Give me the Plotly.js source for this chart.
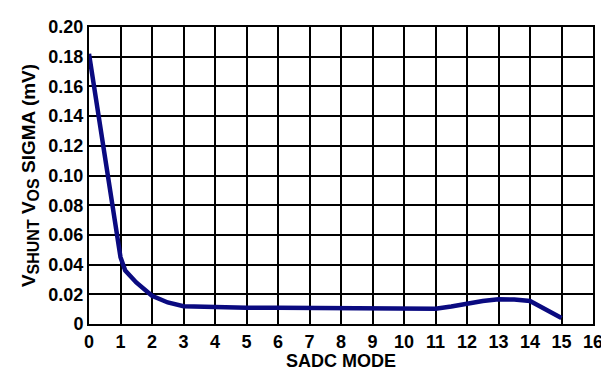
<!DOCTYPE html>
<html>
<head>
<meta charset="utf-8">
<script src="https://cdn.plot.ly/plotly-3.0.1.min.js"></script>
<style>html,body{margin:0;padding:0;background:#fff;}#chart{width:601px;height:371px;}</style>
</head>
<body>
<div id="chart"></div>
<script>
var sadcMode = [0, 0.5, 1, 1.15, 1.5, 2, 2.5, 3, 4, 5, 6, 7, 8, 9, 10, 11, 11.5, 12, 12.5, 13, 13.5, 14, 15];
var sigmaMv = [0.182, 0.114, 0.045, 0.036, 0.028, 0.019, 0.0145, 0.012, 0.0112, 0.011, 0.011, 0.0108, 0.0106, 0.0104, 0.0100, 0.0103, 0.0118, 0.0138, 0.0155, 0.0166, 0.0165, 0.0155, 0.004];
var xTicks = [0,1,2,3,4,5,6,7,8,9,10,11,12,13,14,15,16];
var yTickVals = [0, 0.02, 0.04, 0.06, 0.08, 0.10, 0.12, 0.14, 0.16, 0.18, 0.20];
var yTickText = ['0', '0.02', '0.04', '0.06', '0.08', '0.10', '0.12', '0.14', '0.16', '0.18', '0.20'];

var fam = 'Liberation Sans, Arial, sans-serif';
Plotly.newPlot('chart', [{
  x: sadcMode, y: sigmaMv, type: 'scatter', mode: 'lines',
  line: {color: '#0a0a80', width: 4.5, shape: 'linear'},
  hoverinfo: 'none'
}], {
  width: 601, height: 371,
  margin: {l: 89, r: 8, t: 27, b: 47},
  paper_bgcolor: '#fff', plot_bgcolor: '#fff',
  showlegend: false,
  font: {family: fam, size: 18, color: '#000'},
  xaxis: {
    range: [0, 16], tickvals: xTicks, ticktext: xTicks.map(String),
    showgrid: true, gridcolor: '#000', gridwidth: 2,
    showline: true, linecolor: '#000', linewidth: 2, mirror: true,
    zeroline: false, ticks: '', ticklen: 0, ticklabeloverflow: 'allow',
    tickfont: {family: fam, size: 18, color: '#000', weight: 'bold'},
    title: {text: '<b>SADC MODE</b>', font: {family: fam, size: 18, color: '#000'}, standoff: 5}
  },
  yaxis: {
    range: [0, 0.2], tickvals: yTickVals, ticktext: yTickText,
    showgrid: true, gridcolor: '#000', gridwidth: 2,
    showline: true, linecolor: '#000', linewidth: 2, mirror: true,
    zeroline: false, ticks: '', ticklen: 0,
    tickfont: {family: fam, size: 18, color: '#000', weight: 'bold'},
    title: {text: '<b>V<sub><span style="font-size:16px">SHUNT</span></sub> V<sub><span style="font-size:16px">OS</span></sub> SIGMA (mV)</b>', font: {family: fam, size: 19, color: '#000'}, standoff: 8}
  }
}, {displayModeBar: false, staticPlot: true});
</script>
</body>
</html>
